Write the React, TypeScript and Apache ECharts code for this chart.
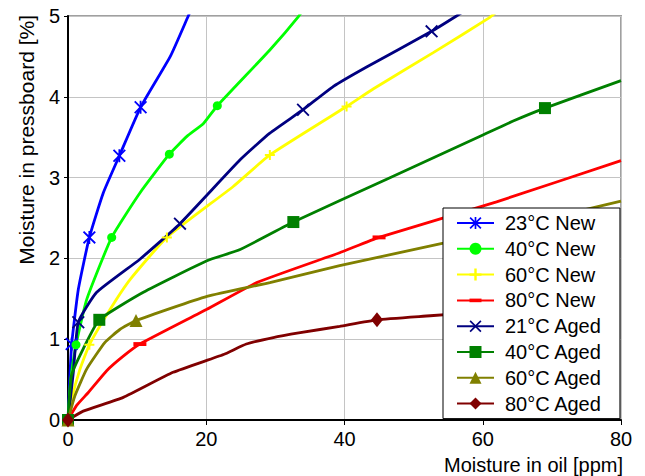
import React, { useEffect, useRef } from 'react';
import * as echarts from 'echarts';

// ---- data ----
const seriesNames = ['23°C New', '40°C New', '60°C New', '80°C New', '21°C Aged', '40°C Aged', '60°C Aged', '80°C Aged'];
const seriesColors = ['#0000FF', '#00FF00', '#FFFF00', '#FF0000', '#000080', '#008000', '#808000', '#800000'];

const new23X = [0, 0.25, 0.53, 1.5, 3.09, 5.1, 7.43, 10.5, 14.8, 17.4, 19.5];
const new23Y = [0, 0.5, 0.94, 1.62, 2.26, 2.81, 3.27, 3.87, 4.5, 5.0, 5.4];
const new23Marks = [2, 4, 6, 7];

const new40X = [0, 0.4, 1.16, 2.7, 6.32, 10.4, 14.66, 17.2, 19.6, 21.6, 29.2, 33.3, 35];
const new40Y = [0, 0.5, 0.93, 1.49, 2.26, 2.81, 3.29, 3.51, 3.67, 3.89, 4.58, 4.99, 5.2];
const new40Marks = [2, 4, 6, 9];

const new60X = [0, 0.5, 1.7, 3.09, 6.1, 9.0, 14.3, 23.9, 29.2, 40.3, 44.2, 52.9, 60.8, 62];
const new60Y = [0, 0.25, 0.62, 0.93, 1.37, 1.74, 2.26, 2.89, 3.28, 3.88, 4.1, 4.55, 4.97, 5.05];
const new60Marks = [3, 6, 8, 9];

const new80X = [0, 1.25, 2.94, 5.6, 8.0, 10.4, 20.1, 27.3, 39.3, 45.0, 62, 80];
const new80Y = [0, 0.18, 0.34, 0.61, 0.79, 0.94, 1.37, 1.7, 2.07, 2.26, 2.7, 3.21];
const new80Marks = [5, 9];

const aged21X = [0, 0.77, 1.49, 4.15, 10.4, 16.2, 24.9, 29.2, 34.0, 38.4, 43.2, 52.6, 56.2, 58];
const aged21Y = [0, 0.59, 1.21, 1.58, 1.99, 2.43, 3.22, 3.55, 3.84, 4.13, 4.37, 4.81, 5.0, 5.1];
const aged21Marks = [2, 5, 8, 11];

const aged40X = [0, 0.5, 2.2, 4.53, 10.9, 20.1, 24.9, 32.6, 46.1, 60.1, 64.4, 69.0, 80];
const aged40Y = [0, 0.55, 0.88, 1.24, 1.58, 1.97, 2.11, 2.45, 2.98, 3.53, 3.7, 3.86, 4.2];
const aged40Marks = [0, 3, 7, 11];

const aged60X = [0, 1, 2.7, 5.35, 7.5, 9.84, 20.1, 29.2, 39.3, 54.3, 80];
const aged60Y = [0, 0.3, 0.63, 0.96, 1.12, 1.23, 1.53, 1.7, 1.91, 2.19, 2.71];
const aged60Marks = [0, 5];

const aged80X = [0, 2.2, 8.0, 15.2, 22.5, 25.8, 29.7, 33.6, 39.3, 44.7, 52.4, 60];
const aged80Y = [0, 0.11, 0.28, 0.59, 0.81, 0.94, 1.02, 1.08, 1.16, 1.24, 1.29, 1.34];
const aged80Marks = [0, 9];

const xTicks = [0, 20, 40, 60, 80];
const yTicks = [0, 1, 2, 3, 4, 5];
const xTitle = 'Moisture in oil [ppm]';
const yTitle = 'Moisture in pressboard [%]';

// ---- marker shapes ----
const X_PATH = 'M0,10 L10,0 L50,40 L90,0 L100,10 L60,50 L100,90 L90,100 L50,60 L10,100 L0,90 L40,50 Z';
const STAR_PATH = 'path://' + X_PATH + ' M43,0 L57,0 L57,100 L43,100 Z';
const CROSS_PATH = 'path://' + X_PATH;
const PLUS_PATH = 'path://M40,0 L60,0 L60,40 L100,40 L100,60 L60,60 L60,100 L40,100 L40,60 L0,60 L0,40 L40,40 Z';
const DASH_PATH = 'path://M0,0 M100,100 M0,35 L100,35 L100,65 L0,65 Z';

const symbols: any[] = [STAR_PATH, 'circle', PLUS_PATH, DASH_PATH, CROSS_PATH, 'rect', 'triangle', 'diamond'];
const symbolSizes: any[] = [13, 9, 10, 13, 13, 12, 13, [12, 15]];

const allX = [new23X, new40X, new60X, new80X, aged21X, aged40X, aged60X, aged80X];
const allY = [new23Y, new40Y, new60Y, new80Y, aged21Y, aged40Y, aged60Y, aged80Y];
const allMarks = [new23Marks, new40Marks, new60Marks, new80Marks, aged21Marks, aged40Marks, aged60Marks, aged80Marks];

const FONT = 'Arial, "Liberation Sans", sans-serif';

function buildData(xs: number[], ys: number[], marks: number[]) {
  return xs.map((x, i) => (marks.includes(i) ? { value: [x, ys[i]] } : { value: [x, ys[i]], symbol: 'none' }));
}

export default function App() {
  const ref = useRef<HTMLDivElement>(null);
  useEffect(() => {
    if (!ref.current) return;
    const chart = echarts.init(ref.current, undefined, { renderer: 'svg' });
    const series = seriesNames.map((name, i) => ({
      name,
      type: 'line',
      data: buildData(allX[i], allY[i], allMarks[i]),
      symbol: symbols[i],
      symbolSize: symbolSizes[i],
      showSymbol: true,
      smooth: 0.15,
      clip: true,
      lineStyle: { color: seriesColors[i], width: 2.8 },
      itemStyle: { color: seriesColors[i], borderWidth: 0 },
      emphasis: { disabled: true },
    }));
    chart.setOption({
      animation: false,
      backgroundColor: '#ffffff',
      textStyle: { fontFamily: FONT },
      grid: {
        left: 68,
        top: 16,
        right: 24,
        bottom: 56,
        show: true,
        borderColor: '#a0a0a0',
        borderWidth: 2,
        backgroundColor: 'transparent',
      },
      xAxis: {
        type: 'value',
        min: xTicks[0],
        max: xTicks[xTicks.length - 1],
        interval: 20,
        axisLine: { show: true, onZero: false, lineStyle: { color: '#000', width: 2 } },
        axisTick: { show: true, inside: false, length: 5, lineStyle: { color: '#000', width: 1 } },
        axisLabel: { color: '#000', fontSize: 20, fontFamily: FONT, margin: 9 },
        splitLine: { show: true, lineStyle: { color: '#c4c4c4', width: 1 } },
      },
      yAxis: {
        type: 'value',
        min: yTicks[0],
        max: yTicks[yTicks.length - 1],
        interval: 1,
        axisLine: { show: true, onZero: false, lineStyle: { color: '#000', width: 2 } },
        axisTick: { show: true, inside: false, length: 4, lineStyle: { color: '#000', width: 1 } },
        axisLabel: { color: '#000', fontSize: 20, fontFamily: FONT, margin: 8 },
        splitLine: { show: true, lineStyle: { color: '#c4c4c4', width: 1 } },
      },
      legend: {
        orient: 'vertical',
        left: 443,
        top: 208,
        padding: [5, 18, 5, 13],
        backgroundColor: '#ffffff',
        borderColor: '#000000',
        borderWidth: 1,
        borderRadius: 0,
        itemWidth: 37,
        itemHeight: 15,
        itemGap: 5.8,
        textStyle: { color: '#000', fontSize: 20, fontFamily: FONT, lineHeight: 20, padding: [0, 0, 0, 6] },
        data: seriesNames,
        selectedMode: false,
      },
      graphic: [
        {
          type: 'text',
          x: 623,
          y: 465,
          style: { text: xTitle, align: 'right', verticalAlign: 'middle', fill: '#000', font: '20px ' + FONT },
        },
        {
          type: 'text',
          x: 26,
          y: 15,
          rotation: Math.PI / 2,
          style: { text: yTitle, align: 'right', verticalAlign: 'middle', fill: '#000', font: '21px ' + FONT },
        },
      ],
      series,
    });
    return () => chart.dispose();
  }, []);
  return <div ref={ref} style={{ position: 'fixed', left: 0, top: 0, width: 645, height: 476 }} />;
}
